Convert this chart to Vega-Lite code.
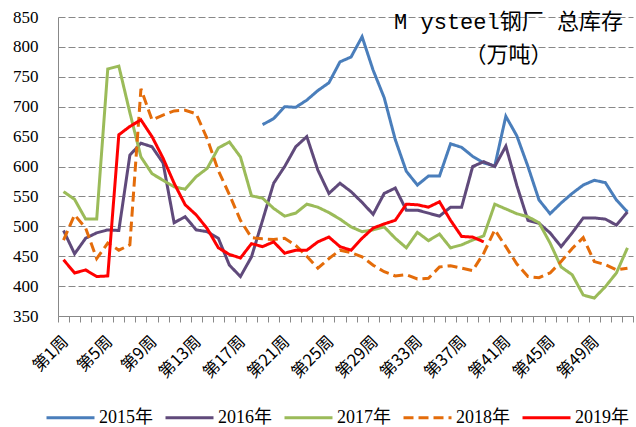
{
  "$schema": "https://vega.github.io/schema/vega-lite/v6.json",
  "autosize": {"type": "none"},
  "width": 575,
  "height": 299,
  "padding": {"left": 58, "top": 17, "right": 3, "bottom": 111},
  "background": "white",
  "title": {
    "text": ["M ysteel钢厂 总库存", "（万吨）"],
    "anchor": "middle",
    "frame": "group",
    "dx": 163,
    "dy": 59,
    "offset": 0,
    "fontSize": 22,
    "lineHeight": 33,
    "font": "Liberation Mono, Noto Sans CJK SC",
    "fontWeight": "normal",
    "color": "#000000"
  },
  "datasets": {
    "stock": [
      {"year":"2015年","week":19,"value":670},{"year":"2015年","week":20,"value":680},{"year":"2015年","week":21,"value":700},{"year":"2015年","week":22,"value":699},{"year":"2015年","week":23,"value":711},{"year":"2015年","week":24,"value":727},{"year":"2015年","week":25,"value":740},{"year":"2015年","week":26,"value":775},{"year":"2015年","week":27,"value":783},{"year":"2015年","week":28,"value":817},{"year":"2015年","week":29,"value":761},{"year":"2015年","week":30,"value":715},{"year":"2015年","week":31,"value":645},{"year":"2015年","week":32,"value":592},{"year":"2015年","week":33,"value":569},{"year":"2015年","week":34,"value":584},{"year":"2015年","week":35,"value":584},{"year":"2015年","week":36,"value":638},{"year":"2015年","week":37,"value":632},{"year":"2015年","week":38,"value":617},{"year":"2015年","week":39,"value":606},{"year":"2015年","week":40,"value":601},{"year":"2015年","week":41,"value":684},{"year":"2015年","week":42,"value":651},{"year":"2015年","week":43,"value":600},{"year":"2015年","week":44,"value":544},{"year":"2015年","week":45,"value":521},{"year":"2015年","week":46,"value":539},{"year":"2015年","week":47,"value":555},{"year":"2015年","week":48,"value":569},{"year":"2015年","week":49,"value":577},{"year":"2015年","week":50,"value":573},{"year":"2015年","week":51,"value":544},{"year":"2015年","week":52,"value":524},
      {"year":"2016年","week":1,"value":493},{"year":"2016年","week":2,"value":454},{"year":"2016年","week":3,"value":480},{"year":"2016年","week":4,"value":489},{"year":"2016年","week":5,"value":494},{"year":"2016年","week":6,"value":493},{"year":"2016年","week":7,"value":619},{"year":"2016年","week":8,"value":639},{"year":"2016年","week":9,"value":633},{"year":"2016年","week":10,"value":606},{"year":"2016年","week":11,"value":506},{"year":"2016年","week":12,"value":516},{"year":"2016年","week":13,"value":494},{"year":"2016年","week":14,"value":491},{"year":"2016年","week":15,"value":480},{"year":"2016年","week":16,"value":435},{"year":"2016年","week":17,"value":416},{"year":"2016年","week":18,"value":449},{"year":"2016年","week":19,"value":510},{"year":"2016年","week":20,"value":572},{"year":"2016年","week":21,"value":600},{"year":"2016年","week":22,"value":633},{"year":"2016年","week":23,"value":650},{"year":"2016年","week":24,"value":594},{"year":"2016年","week":25,"value":555},{"year":"2016年","week":26,"value":572},{"year":"2016年","week":27,"value":558},{"year":"2016年","week":28,"value":540},{"year":"2016年","week":29,"value":520},{"year":"2016年","week":30,"value":555},{"year":"2016年","week":31,"value":564},{"year":"2016年","week":32,"value":527},{"year":"2016年","week":33,"value":527},{"year":"2016年","week":34,"value":522},{"year":"2016年","week":35,"value":517},{"year":"2016年","week":36,"value":532},{"year":"2016年","week":37,"value":532},{"year":"2016年","week":38,"value":600},{"year":"2016年","week":39,"value":608},{"year":"2016年","week":40,"value":600},{"year":"2016年","week":41,"value":634},{"year":"2016年","week":42,"value":568},{"year":"2016年","week":43,"value":510},{"year":"2016年","week":44,"value":505},{"year":"2016年","week":45,"value":489},{"year":"2016年","week":46,"value":466},{"year":"2016年","week":47,"value":489},{"year":"2016年","week":48,"value":514},{"year":"2016年","week":49,"value":514},{"year":"2016年","week":50,"value":512},{"year":"2016年","week":51,"value":502},{"year":"2016年","week":52,"value":524},
      {"year":"2017年","week":1,"value":558},{"year":"2017年","week":2,"value":545},{"year":"2017年","week":3,"value":512},{"year":"2017年","week":4,"value":512},{"year":"2017年","week":5,"value":763},{"year":"2017年","week":6,"value":768},{"year":"2017年","week":7,"value":690},{"year":"2017年","week":8,"value":616},{"year":"2017年","week":9,"value":588},{"year":"2017年","week":10,"value":577},{"year":"2017年","week":11,"value":566},{"year":"2017年","week":12,"value":562},{"year":"2017年","week":13,"value":583},{"year":"2017年","week":14,"value":597},{"year":"2017年","week":15,"value":631},{"year":"2017年","week":16,"value":641},{"year":"2017年","week":17,"value":616},{"year":"2017年","week":18,"value":551},{"year":"2017年","week":19,"value":547},{"year":"2017年","week":20,"value":530},{"year":"2017年","week":21,"value":517},{"year":"2017年","week":22,"value":522},{"year":"2017年","week":23,"value":537},{"year":"2017年","week":24,"value":532},{"year":"2017年","week":25,"value":523},{"year":"2017年","week":26,"value":512},{"year":"2017年","week":27,"value":499},{"year":"2017年","week":28,"value":491},{"year":"2017年","week":29,"value":494},{"year":"2017年","week":30,"value":499},{"year":"2017年","week":31,"value":480},{"year":"2017年","week":32,"value":464},{"year":"2017年","week":33,"value":490},{"year":"2017年","week":34,"value":476},{"year":"2017年","week":35,"value":487},{"year":"2017年","week":36,"value":464},{"year":"2017年","week":37,"value":469},{"year":"2017年","week":38,"value":477},{"year":"2017年","week":39,"value":484},{"year":"2017年","week":40,"value":537},{"year":"2017年","week":41,"value":529},{"year":"2017年","week":42,"value":521},{"year":"2017年","week":43,"value":516},{"year":"2017年","week":44,"value":506},{"year":"2017年","week":45,"value":472},{"year":"2017年","week":46,"value":432},{"year":"2017年","week":47,"value":419},{"year":"2017年","week":48,"value":385},{"year":"2017年","week":49,"value":380},{"year":"2017年","week":50,"value":399},{"year":"2017年","week":51,"value":422},{"year":"2017年","week":52,"value":464},
      {"year":"2018年","week":1,"value":477},{"year":"2018年","week":2,"value":519},{"year":"2018年","week":3,"value":497},{"year":"2018年","week":4,"value":446},{"year":"2018年","week":5,"value":472},{"year":"2018年","week":6,"value":460},{"year":"2018年","week":7,"value":469},{"year":"2018年","week":8,"value":730},{"year":"2018年","week":9,"value":678},{"year":"2018年","week":10,"value":686},{"year":"2018年","week":11,"value":693},{"year":"2018年","week":12,"value":694},{"year":"2018年","week":13,"value":688},{"year":"2018年","week":14,"value":646},{"year":"2018年","week":15,"value":593},{"year":"2018年","week":16,"value":553},{"year":"2018年","week":17,"value":510},{"year":"2018年","week":18,"value":481},{"year":"2018年","week":19,"value":479},{"year":"2018年","week":20,"value":478},{"year":"2018年","week":21,"value":480},{"year":"2018年","week":22,"value":468},{"year":"2018年","week":23,"value":450},{"year":"2018年","week":24,"value":430},{"year":"2018年","week":25,"value":446},{"year":"2018年","week":26,"value":460},{"year":"2018年","week":27,"value":456},{"year":"2018年","week":28,"value":449},{"year":"2018年","week":29,"value":435},{"year":"2018年","week":30,"value":424},{"year":"2018年","week":31,"value":417},{"year":"2018年","week":32,"value":419},{"year":"2018年","week":33,"value":412},{"year":"2018年","week":34,"value":413},{"year":"2018年","week":35,"value":432},{"year":"2018年","week":36,"value":434},{"year":"2018年","week":37,"value":430},{"year":"2018年","week":38,"value":426},{"year":"2018年","week":39,"value":455},{"year":"2018年","week":40,"value":494},{"year":"2018年","week":41,"value":466},{"year":"2018年","week":42,"value":437},{"year":"2018年","week":43,"value":416},{"year":"2018年","week":44,"value":414},{"year":"2018年","week":45,"value":422},{"year":"2018年","week":46,"value":441},{"year":"2018年","week":47,"value":463},{"year":"2018年","week":48,"value":481},{"year":"2018年","week":49,"value":441},{"year":"2018年","week":50,"value":436},{"year":"2018年","week":51,"value":427},{"year":"2018年","week":52,"value":430},
      {"year":"2019年","week":1,"value":444},{"year":"2019年","week":2,"value":422},{"year":"2019年","week":3,"value":427},{"year":"2019年","week":4,"value":416},{"year":"2019年","week":5,"value":417},{"year":"2019年","week":6,"value":653},{"year":"2019年","week":7,"value":667},{"year":"2019年","week":8,"value":678},{"year":"2019年","week":9,"value":650},{"year":"2019年","week":10,"value":614},{"year":"2019年","week":11,"value":572},{"year":"2019年","week":12,"value":536},{"year":"2019年","week":13,"value":519},{"year":"2019年","week":14,"value":496},{"year":"2019年","week":15,"value":464},{"year":"2019年","week":16,"value":453},{"year":"2019年","week":17,"value":447},{"year":"2019年","week":18,"value":471},{"year":"2019年","week":19,"value":466},{"year":"2019年","week":20,"value":474},{"year":"2019年","week":21,"value":455},{"year":"2019年","week":22,"value":460},{"year":"2019年","week":23,"value":460},{"year":"2019年","week":24,"value":474},{"year":"2019年","week":25,"value":482},{"year":"2019年","week":26,"value":466},{"year":"2019年","week":27,"value":460},{"year":"2019年","week":28,"value":480},{"year":"2019年","week":29,"value":497},{"year":"2019年","week":30,"value":504},{"year":"2019年","week":31,"value":510},{"year":"2019年","week":32,"value":537},{"year":"2019年","week":33,"value":536},{"year":"2019年","week":34,"value":532},{"year":"2019年","week":35,"value":541},{"year":"2019年","week":36,"value":510},{"year":"2019年","week":37,"value":483},{"year":"2019年","week":38,"value":482},{"year":"2019年","week":39,"value":474}
    ]
  },
  "data": {"name": "stock"},
  "mark": {"type": "line", "strokeCap": "butt", "strokeJoin": "miter"},
  "encoding": {
    "x": {
      "field": "week",
      "type": "ordinal",
      "bandPosition": 0.5,
      "scale": {"type": "band", "paddingInner": 0, "paddingOuter": 0},
      "axis": {
        "title": null,
        "tickBand": "extent",
        "labelAngle": -45,
        "labelExpr": "datum.value % 4 == 1 ? '第' + datum.value + '周' : ''",
        "labelFont": "Noto Sans CJK SC",
        "labelFontSize": 16.5,
        "labelColor": "#000000",
        "labelPadding": 11,
        "labelOffset": -4,
        "tickSize": 6,
        "tickColor": "#888888",
        "domainColor": "#888888",
        "grid": false
      }
    },
    "y": {
      "field": "value",
      "type": "quantitative",
      "scale": {"domain": [350, 850], "zero": false, "nice": false},
      "axis": {
        "title": null,
        "values": [350, 400, 450, 500, 550, 600, 650, 700, 750, 800, 850],
        "ticks": false,
        "labelPadding": 20,
        "labelFont": "Liberation Serif",
        "labelFontSize": 17,
        "labelColor": "#000000",
        "domainColor": "#888888",
        "grid": true,
        "gridColor": "#888888",
        "gridDash": [7, 3],
        "gridWidth": 1
      }
    },
    "color": {
      "field": "year",
      "type": "nominal",
      "scale": {
        "domain": ["2015年", "2016年", "2017年", "2018年", "2019年"],
        "range": ["#4a7ebb", "#604a7b", "#9bbb59", "#e46c0a", "#ff0000"]
      },
      "legend": {
        "title": null,
        "orient": "none",
        "legendX": -13,
        "legendY": 375,
        "direction": "horizontal",
        "columns": 5,
        "symbolType": "stroke",
        "symbolSize": 2304,
        "labelFont": "Liberation Serif, Noto Sans CJK SC",
        "labelFontSize": 18,
        "labelColor": "#000000",
        "labelOffset": 3,
        "columnPadding": 6
      }
    },
    "strokeDash": {
      "field": "year",
      "type": "nominal",
      "scale": {
        "domain": ["2015年", "2016年", "2017年", "2018年", "2019年"],
        "range": [[1, 0], [1, 0], [1, 0], [10, 5], [1, 0]]
      },
      "legend": {
        "title": null,
        "orient": "none",
        "legendX": -13,
        "legendY": 375,
        "direction": "horizontal",
        "columns": 5,
        "symbolType": "stroke",
        "symbolSize": 2304,
        "labelFont": "Liberation Serif, Noto Sans CJK SC",
        "labelFontSize": 18,
        "labelColor": "#000000",
        "labelOffset": 3,
        "columnPadding": 6
      }
    },
    "strokeWidth": {
      "field": "year",
      "type": "nominal",
      "scale": {
        "domain": ["2015年", "2016年", "2017年", "2018年", "2019年"],
        "range": [3, 3, 3, 4, 6.5]
      },
      "legend": {
        "title": null,
        "orient": "none",
        "legendX": -13,
        "legendY": 375,
        "direction": "horizontal",
        "columns": 5,
        "symbolType": "stroke",
        "symbolSize": 2304,
        "labelFont": "Liberation Serif, Noto Sans CJK SC",
        "labelFontSize": 18,
        "labelColor": "#000000",
        "labelOffset": 3,
        "columnPadding": 6
      }
    }
  },
  "config": {
    "view": {"stroke": null}
  }
}
